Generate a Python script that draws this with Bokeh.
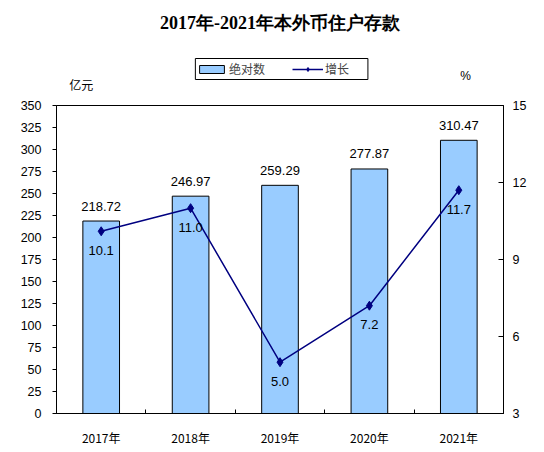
from bokeh.plotting import figure
from bokeh.layouts import column
from bokeh.core.properties import value
from bokeh.models import (Range1d, LinearAxis, FixedTicker, ColumnDataSource, LabelSet,
                          Label, Legend, LegendItem, BoxAnnotation)
from bokeh.embed import file_html
from bokeh.resources import INLINE

years = ["2017年", "2018年", "2019年", "2020年", "2021年"]
deposits = [218.72, 246.97, 259.29, 277.87, 310.47]
growth = [10.1, 11.0, 5.0, 7.2, 11.7]
left_ticks = list(range(0, 351, 25))
right_ticks = [3, 6, 9, 12, 15]

BAR_FILL = "#99CCFF"
LINE_COL = "#000080"
SANS = "Arial"
CJK = "Noto Sans CJK SC"

xs = list(range(1, len(years) + 1))
src = ColumnDataSource(dict(
    x=xs, dep=deposits, gr=growth,
    dep_txt=[f"{v:.2f}" for v in deposits],
    gr_txt=[f"{v:.1f}" for v in growth],
))

W = 544
HEAD_H = 93
FL, FT, FW, FH = 56, 12, 447, 308

# ---------- header: title, legend, unit labels ----------
head = figure(width=W, height=HEAD_H, min_border=0, x_range=Range1d(0, W),
              y_range=Range1d(HEAD_H, 0), x_axis_type=None, y_axis_type=None,
              output_backend="svg", toolbar_location=None, tools="")
head.outline_line_color = None
head.background_fill_color = "white"
head.border_fill_color = "white"

head.add_layout(Label(x=272, y=22, text="2017年-2021年本外币住户存款",
                      text_align="center", text_baseline="middle",
                      text_font="Times New Roman", text_font_style="bold",
                      text_font_size="18px", text_color="black"))
head.add_layout(Label(x=30, y=84, text="亿元", text_align="center", text_baseline="middle",
                      text_font=CJK, text_font_size="12px", text_color="black"))
head.add_layout(Label(x=498, y=75, text="%", text_align="center", text_baseline="middle",
                      text_font=SANS, text_font_size="12px", text_color="black"))
head.add_layout(BoxAnnotation(left=169, right=379, top=58, bottom=79,
                              fill_color=None, line_color="black", line_alpha=1.0,
                              line_width=1))

# legend-only renderers (no drawable data)
NAN = [float("nan")]
lg_bar = head.vbar(x=NAN, top=NAN, width=1, fill_color=BAR_FILL, line_color="black")
lg_line = head.line(x=NAN, y=NAN, line_color=LINE_COL, line_width=1.5)
lg_pts = head.scatter(x=NAN, y=NAN, marker="diamond", size=9, fill_color=LINE_COL,
                      line_color=LINE_COL)
legend = Legend(items=[LegendItem(label="绝对数", renderers=[lg_bar]),
                       LegendItem(label="增长", renderers=[lg_line, lg_pts])],
                orientation="horizontal", location=(140, HEAD_H - 77),
                padding=4, spacing=27, glyph_width=31, glyph_height=10,
                label_height=14, label_width=36, label_standoff=2,
                label_text_font=CJK, label_text_font_size="12px",
                border_line_color=None, background_fill_alpha=0, margin=0)
head.add_layout(legend)

# ---------- main chart ----------
p = figure(frame_width=FW, frame_height=FH, min_border_left=FL,
           min_border_right=W - FL - FW, min_border_top=FT, min_border_bottom=39,
           x_range=Range1d(0.5, len(years) + 0.5), y_range=Range1d(0, 350),
           output_backend="svg", toolbar_location=None, tools="")
p.extra_y_ranges = {"pct": Range1d(3, 15)}
p.outline_line_color = "black"
p.outline_line_width = 1
p.xgrid.visible = False
p.ygrid.visible = False
p.background_fill_color = "white"
p.border_fill_color = "white"

xa = p.xaxis[0]
xa.ticker = FixedTicker(ticks=xs, minor_ticks=[i + 0.5 for i in xs[:-1]])
xa.major_label_overrides = {x: y for x, y in zip(xs, years)}
xa.major_tick_line_color = None
xa.minor_tick_in = 4
xa.minor_tick_out = 0
xa.minor_tick_line_color = "black"
xa.axis_line_color = "black"
xa.major_label_text_font = CJK
xa.major_label_text_font_size = "12px"
xa.major_label_text_color = "black"
xa.major_label_standoff = 9

ya = p.yaxis[0]
ya.ticker = FixedTicker(ticks=left_ticks)
ya.major_tick_in = 0
ya.major_tick_out = 4
ya.minor_tick_line_color = None
ya.major_label_text_font = SANS
ya.major_label_text_font_size = "12.5px"
ya.major_label_text_color = "black"
ya.major_label_standoff = 11
ya.axis_line_color = "black"
ya.major_tick_line_color = "black"

ra = LinearAxis(y_range_name="pct", ticker=FixedTicker(ticks=right_ticks))
ra.major_tick_in = 5
ra.major_tick_out = 0
ra.minor_tick_line_color = None
ra.major_label_text_font = SANS
ra.major_label_text_font_size = "12.5px"
ra.major_label_text_color = "black"
ra.major_label_standoff = 9
ra.axis_line_color = "black"
p.add_layout(ra, "right")

p.vbar(x="x", top="dep", width=0.41, source=src, fill_color=BAR_FILL,
       line_color="black", line_width=1)
p.line(x="x", y="gr", source=src, y_range_name="pct", line_color=LINE_COL, line_width=1.5)
p.scatter(x="x", y="gr", source=src, y_range_name="pct", marker="diamond",
          size=9, fill_color=LINE_COL, line_color=LINE_COL)

p.add_layout(LabelSet(x="x", y="dep", text="dep_txt", source=src, y_offset=15,
                      text_align="center", text_baseline="middle",
                      text_font=value(SANS), text_font_size="13px", text_color="black"))
p.add_layout(LabelSet(x="x", y="gr", text="gr_txt", source=src, y_range_name="pct",
                      y_offset=-19, text_align="center", text_baseline="middle",
                      text_font=value(SANS), text_font_size="13px", text_color="black"))

layout = column(head, p, spacing=0)
open("out.html", "w").write(file_html(layout, INLINE))
